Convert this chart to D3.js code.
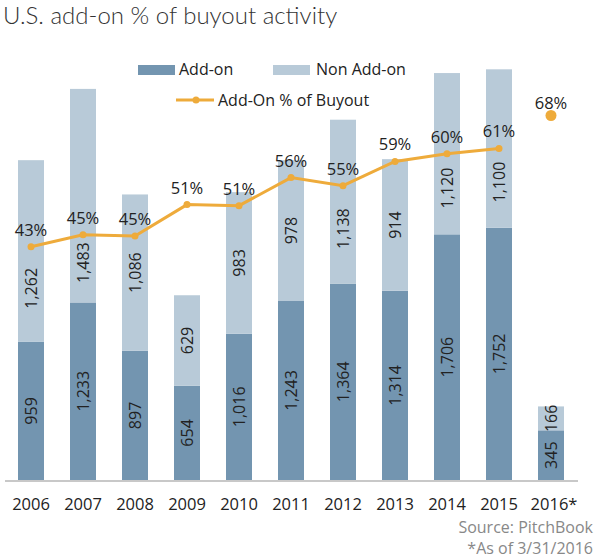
<!doctype html>
<html lang="en">
<head>
  <meta charset="utf-8">
  <title>U.S. add-on % of buyout activity</title>
  <style>
    * { margin: 0; padding: 0; box-sizing: border-box; }
    body { background: #fff; }
    svg { display: block; }
    .lbl { font-family: "Open Sans", sans-serif; fill: #222; }
  </style>
</head>
<body>
  <div id="container"></div>
  <script src="https://cdn.jsdelivr.net/npm/d3@7"></script>
  <script>
    const years = ['2006','2007','2008','2009','2010','2011','2012','2013','2014','2015','2016*'];
    const addOn = [959, 1233, 897, 654, 1016, 1243, 1364, 1314, 1706, 1752, 345];
    const nonAddOn = [1262, 1483, 1086, 629, 983, 978, 1138, 914, 1120, 1100, 166];
    const addOnPct = [43.2, 45.4, 45.2, 51.0, 50.8, 56.0, 54.5, 59.0, 60.4, 61.4, 67.5];

    const W = 603, H = 559;
    const cDark = '#7395b0', cLight = '#b8cad8', cLine = '#eeab3b';

    const svg = d3.select('#container').append('svg')
      .attr('width', W)
      .attr('height', H);

    const x = d3.scaleBand().domain(years).range([5, 577]).paddingInner(0.5).paddingOuter(0.25);
    const y = d3.scaleLinear().domain([0, 3000]).range([480, 48]);
    const yp = d3.scaleLinear().domain([0, 80]).range([480, 48]);
    const fmt = d3.format(',');

    // title
    svg.append('text')
      .attr('x', 3).attr('y', 24)
      .style('font-family', 'Lato, sans-serif')
      .style('font-weight', 300)
      .style('font-size', '24px')
      .style('fill', '#333')
      .text('U.S. add-on % of buyout activity');

    const rows = years.map((yr, i) => ({ yr, a: addOn[i], n: nonAddOn[i], p: addOnPct[i] }));

    // bars
    const g = svg.append('g');
    g.selectAll('rect.a').data(rows).enter().append('rect')
      .attr('x', d => x(d.yr)).attr('width', x.bandwidth())
      .attr('y', d => y(d.a)).attr('height', d => y(0) - y(d.a))
      .attr('fill', cDark);
    g.selectAll('rect.n').data(rows).enter().append('rect')
      .attr('x', d => x(d.yr)).attr('width', x.bandwidth())
      .attr('y', d => y(d.a + d.n)).attr('height', d => y(d.a) - y(d.a + d.n))
      .attr('fill', cLight);

    // axis line
    svg.append('line')
      .attr('x1', 5).attr('x2', 578).attr('y1', 481).attr('y2', 481)
      .attr('stroke', '#c8c8c8').attr('stroke-width', 2);

    // x labels
    svg.selectAll('text.yr').data(years).enter().append('text')
      .attr('class', 'lbl')
      .attr('x', d => x(d) + x.bandwidth() / 2 + (d.endsWith('*') ? 3 : 0))
      .attr('y', 510)
      .attr('text-anchor', 'middle')
      .style('font-size', '16.5px')
      .text(d => d);

    // value labels inside bars (moved below the line where they would collide)
    const cx = d => x(d.yr) + x.bandwidth() / 2;
    function segLabel(d, i, val, top, bottom, checkLine) {
      const t = svg.append('text')
        .attr('class', 'lbl')
        .attr('text-anchor', 'middle')
        .attr('dominant-baseline', 'central')
        .style('font-size', '16px')
        .text(fmt(val));
      const len = t.node().getComputedTextLength();
      let c = (top + bottom) / 2;
      const py = yp(d.p);
      if (checkLine && i < 10 && py > c - len / 2 - 8 && py < c + len / 2 + 25) {
        c = (py + bottom) / 2 - 6;
      }
      t.attr('transform', `translate(${cx(d)},${c}) rotate(-90)`);
    }
    rows.forEach((d, i) => {
      segLabel(d, i, d.a, y(d.a), y(0), false);
      segLabel(d, i, d.n, y(d.a + d.n), y(d.a), true);
    });

    // line (2006-2015) and the 2016 point
    const lineRows = rows.slice(0, 10);
    const line = d3.line().x(cx).y(d => yp(d.p));
    svg.append('path').datum(lineRows)
      .attr('d', line)
      .attr('fill', 'none')
      .attr('stroke', cLine)
      .attr('stroke-width', 3);
    svg.selectAll('circle.p').data(lineRows).enter().append('circle')
      .attr('cx', cx).attr('cy', d => yp(d.p)).attr('r', 3.5)
      .attr('fill', cLine);
    svg.append('circle')
      .attr('cx', cx(rows[10])).attr('cy', yp(rows[10].p)).attr('r', 5.5)
      .attr('fill', cLine);

    svg.selectAll('text.pct').data(rows).enter().append('text')
      .attr('class', 'lbl')
      .attr('x', cx)
      .attr('y', (d, i) => yp(d.p) - (i < 10 ? 11 : 7))
      .attr('text-anchor', 'middle')
      .style('font-size', '16.5px')
      .text(d => Math.round(d.p) + '%');

    // legend
    const lg = svg.append('g').style('font-family', '"Open Sans", sans-serif').style('font-size', '16px');
    lg.append('rect').attr('x', 138).attr('y', 65).attr('width', 37).attr('height', 10).attr('fill', cDark);
    lg.append('text').attr('x', 179).attr('y', 75).attr('fill', '#222').text('Add-on');
    lg.append('rect').attr('x', 273).attr('y', 65).attr('width', 37).attr('height', 10).attr('fill', cLight);
    lg.append('text').attr('x', 316).attr('y', 75).attr('fill', '#222').text('Non Add-on');
    lg.append('line').attr('x1', 176).attr('x2', 214).attr('y1', 100).attr('y2', 100)
      .attr('stroke', cLine).attr('stroke-width', 3);
    lg.append('circle').attr('cx', 196).attr('cy', 100).attr('r', 3.5).attr('fill', cLine);
    lg.append('text').attr('x', 218).attr('y', 106).attr('fill', '#222').text('Add-On % of Buyout');

    // source notes
    const notes = ['Source: PitchBook', '*As of 3/31/2016'];
    svg.selectAll('text.note').data(notes).enter().append('text')
      .attr('x', 593)
      .attr('y', (d, i) => 533 + i * 21)
      .attr('text-anchor', 'end')
      .style('font-family', '"Open Sans", sans-serif')
      .style('font-size', '16px')
      .style('fill', '#888')
      .text(d => d);
  </script>
</body>
</html>
